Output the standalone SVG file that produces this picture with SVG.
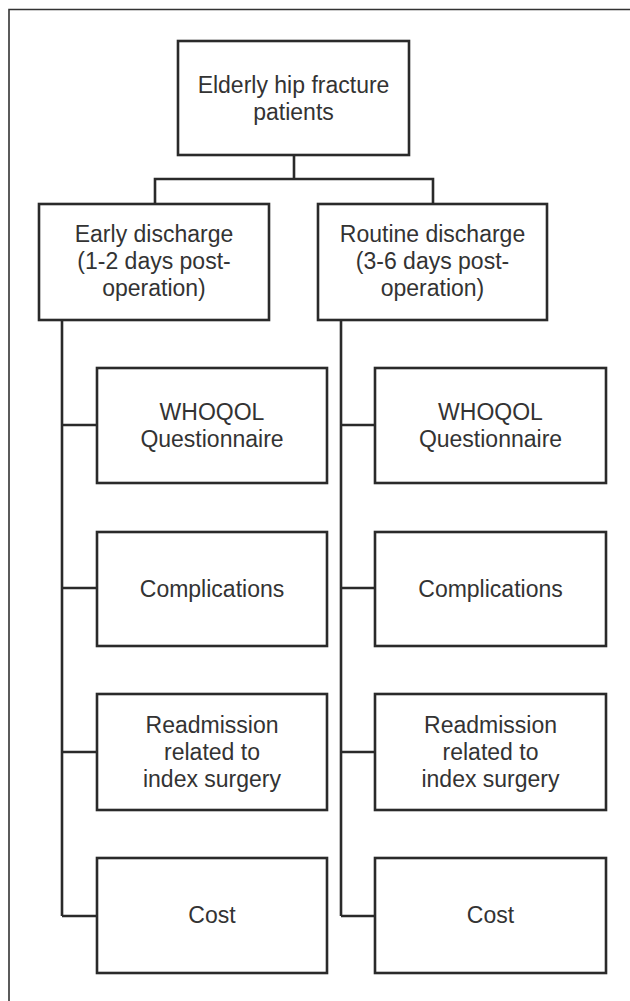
<svg xmlns="http://www.w3.org/2000/svg" width="630" height="1001" viewBox="0 0 630 1001">
<style>
.box{fill:#fff;stroke:#2a2a2a;stroke-width:2.6}
.ln{fill:none;stroke:#2a2a2a;stroke-width:2.6}
.t{font-family:"Liberation Sans",Arial,sans-serif;font-size:23px;fill:#333;text-anchor:middle}
</style>
<rect width="630" height="1001" fill="#fff"/>
<path d="M9,1001 V9.5 H630" fill="none" stroke="#333" stroke-width="1.6"/>
<g id="connectors" class="ln">
<path d="M294,155 V179 M155,204 V179 H433 V204"/>
<path d="M62,320 V916 M62,425 H97 M62,588 H97 M62,752 H97 M62,916 H97"/>
<path d="M341,320 V916 M341,425 H375 M341,588 H375 M341,752 H375 M341,916 H375"/>
</g>
<g id="root"><rect class="box" x="178" y="41" width="231" height="114"/>
<text class="t" x="293.5" y="93">Elderly hip fracture</text><text class="t" x="293.5" y="120">patients</text></g>
<g id="early"><rect class="box" x="39" y="204" width="230" height="116"/>
<text class="t" x="154" y="242">Early discharge</text><text class="t" x="154" y="269">(1-2 days post-</text><text class="t" x="154" y="296">operation)</text></g>
<g id="routine"><rect class="box" x="318" y="204" width="229" height="116"/>
<text class="t" x="432.5" y="242">Routine discharge</text><text class="t" x="432.5" y="269">(3-6 days post-</text><text class="t" x="432.5" y="296">operation)</text></g>
<g id="e-whoqol"><rect class="box" x="97" y="368" width="230" height="115"/>
<text class="t" x="212" y="420">WHOQOL</text><text class="t" x="212" y="447">Questionnaire</text></g>
<g id="e-comp"><rect class="box" x="97" y="532" width="230" height="114"/>
<text class="t" x="212" y="597">Complications</text></g>
<g id="e-readm"><rect class="box" x="97" y="694" width="230" height="116"/>
<text class="t" x="212" y="733">Readmission</text><text class="t" x="212" y="760">related to</text><text class="t" x="212" y="787">index surgery</text></g>
<g id="e-cost"><rect class="box" x="97" y="858" width="230" height="115"/>
<text class="t" x="212" y="923">Cost</text></g>
<g id="r-whoqol"><rect class="box" x="375" y="368" width="231" height="115"/>
<text class="t" x="490.5" y="420">WHOQOL</text><text class="t" x="490.5" y="447">Questionnaire</text></g>
<g id="r-comp"><rect class="box" x="375" y="532" width="231" height="114"/>
<text class="t" x="490.5" y="597">Complications</text></g>
<g id="r-readm"><rect class="box" x="375" y="694" width="231" height="116"/>
<text class="t" x="490.5" y="733">Readmission</text><text class="t" x="490.5" y="760">related to</text><text class="t" x="490.5" y="787">index surgery</text></g>
<g id="r-cost"><rect class="box" x="375" y="858" width="231" height="115"/>
<text class="t" x="490.5" y="923">Cost</text></g>
</svg>
